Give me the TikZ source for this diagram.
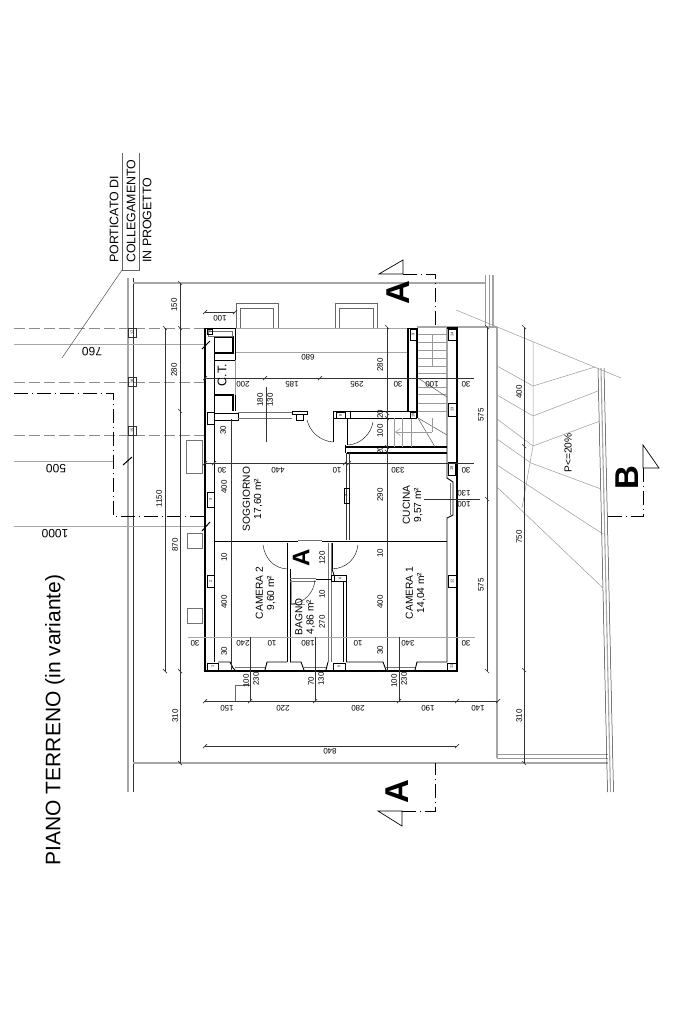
\documentclass[tikz,border=0pt]{standalone}
\usepackage{fontspec}
\setmainfont{Liberation Sans}
\usetikzlibrary{arrows.meta}
\tikzset{
  wall/.style={black,line width=0.9pt},
  thickwall/.style={black,line width=1.4pt},
  glass/.style={black!55,line width=0.7pt},
  site/.style={black!35,line width=1.1pt},
  fine/.style={black!40,line width=0.5pt},
  dimline/.style={black!80,line width=0.5pt},
  gridline/.style={black!45,line width=0.9pt,dash pattern=on 11pt off 4pt},
  cutline/.style={black,line width=0.9pt,dash pattern=on 14pt off 4pt on 1pt off 4pt},
  dimup/.style={rotate=90,inner sep=0pt,font=\fontsize{8}{9}\selectfont},
  dimflip/.style={rotate=180,inner sep=0pt,font=\fontsize{8}{9}\selectfont},
  roomname/.style={rotate=90,inner sep=0pt,align=center,font=\fontsize{10.2}{11.2}\selectfont},
  postnum/.style={rotate=90,inner sep=0pt,font=\fontsize{3.8}{4}\selectfont},
  note/.style={rotate=90,inner sep=0pt,anchor=west,font=\fontsize{12.4}{14}\selectfont},
  offset/.style={rotate=180,inner sep=0pt,font=\fontsize{12}{14}\selectfont},
  cutname/.style={rotate=90,inner sep=0pt,font=\bfseries\fontsize{33}{36}\selectfont},
}
\begin{document}
\begin{tikzpicture}[x=1pt,y=-1pt]
    \useasboundingbox (0,0) rectangle (683,1025);

    % site boundary
    \draw[site] (128,278) to (128,792);
    \draw[dimline] (133.5,278) to (133.5,792);
    \draw[site] (133,283) to (485,283);
    \draw[site] (133,763) to (608,763);
    \draw[fine] (485,275) to (485,327);
    \draw[fine] (489,275) to (489,327);
    \draw[site] (493,275) to (493,328);
    \draw[site] (417,327) to (497,327);
    \draw[site] (497,327) to (497,758);
    \draw[fine] (497,754) to (608,754);
    \draw[fine] (497,758) to (608,758);
    \draw[dimline] (598,368) to (607.5,792);
    \draw[site] (601,368) to (610.5,792);
    \draw[dimline] (604,368) to (613.5,792);

    % slope
    \draw[fine] (456,310) to (621,378);
    \draw[fine] (533,342) to (533,446) to (522,508);
    \draw[fine] (497,366) to (533,386) to (595,367);
    \draw[fine] (497,395) to (533,416) to (598,391);
    \draw[fine] (497,419) to (533,446) to (600,421);
    \draw[fine] (497,439) to (531,463) to (601,489);
    \draw[fine] (497,465) to (603,534);
    \draw[fine] (497,487) to (603,588);

    % axes of the new portico
    \foreach \gy in {328,382,435} \draw[gridline] (14,\gy) to (205,\gy);
    \draw[site,line width=0.8pt] (14,344) to (205,344);
    \draw[site,line width=0.8pt] (14,461) to (113,461);
    \draw[site,line width=0.8pt] (14,526) to (205,526);
    \draw[cutline] (14,393) to (113,393) to (113,516) to (205,516);
    \draw[black,line width=1pt] (202,349) to (210,341);
    \draw[black,line width=1pt] (123,465) to (132,457);
    \draw[black,line width=1pt] (202,531) to (210,522);
    \foreach \px/\py/\pn in {128/328/17,128/377/16,128/426/15} {
        \draw[black!80,line width=0.8pt] (\px,\py) rectangle ++(8,9);
        \node[postnum] (post\pn) at (\px+4,\py+4.5) {\pn};
    }
    \draw[black!60,line width=0.6pt] (122,153) to (122,270) to (139,270) to (139,153);
    \draw[black!70,line width=0.5pt] (122,270) to (62,358);

    % small boxes and bays outside
    \draw[black!55,line width=0.6pt] (186,440) rectangle (202,473);
    \draw[black!55,line width=0.6pt] (187,533) rectangle (202,548);
    \draw[black!55,line width=0.6pt] (187,608) rectangle (202,623);
    \draw[black!60,line width=0.6pt] (236,328) to (236,303) to (278,303) to (278,328);
    \draw[black!60,line width=0.6pt] (240,328) to (240,308) to (273,308) to (273,328);
    \draw[black!60,line width=0.6pt] (335,328) to (335,303) to (377,303) to (377,328);
    \draw[black!60,line width=0.6pt] (339,328) to (339,308) to (373,308) to (373,328);
    \draw[site,line width=0.7pt] (235,328) to (408,328);
    \draw[site,line width=0.7pt] (236,352) to (408,352);
    \draw[black!60,line width=0.5pt] (235,685) to (235,701);
    \draw[black!60,line width=0.5pt] (235,685) to (250,685);

    % outer walls
    \draw[thickwall] (205,328) to (205,671) to (457,671) to (457,328) to (447,328);
    \draw[wall] (214,337) to (214,662);
    \draw[wall] (447,328) to (447,478) to (453,482) to (453,515) to (447,518) to (447,662);
    \draw[glass] (450,483) to (450,515);

    % C.T. room
    \draw[wall] (205,328) to (235,328) to (235,360) to (214,360);
    \draw[thickwall] (214,337) to (233,337) to (233,353) to (214,353);
    \draw[wall] (235,395) to (235,411);
    \draw[thickwall] (214,395) to (233,395) to (233,411);
    \draw[glass] (208,331) rectangle (232,336);
    \draw[fine] (235,360) to (235,395);

    % wall below C.T. and soggiorno top
    \draw[wall] (207,412) rectangle (214,424);
    \draw[wall] (214,413) to (238,413) to (238,420) to (214,420);
    \draw[glass] (238,412) to (292,412);
    \draw[glass] (238,418) to (292,418);
    \draw[wall] (292,411) rectangle (307,414);
    \draw[wall] (296,414) rectangle (303,420);
    \draw[wall] (333,411) to (350,411) to (350,418) to (333,418) to (333,411);
    \draw[wall] (350,411) to (417,411);
    \draw[wall] (350,418) to (417,418);
    \draw[wall] (333,418) to (333,442);
    \draw (307,420) .. controls (310,432) and (320,441) .. (333,442);

    % stair walls
    \draw[wall] (408,328) to (417,328);
    \draw[thickwall] (408,328) to (408,411);
    \draw[thickwall] (417,328) to (417,418);
    \draw[thickwall] (345,447) to (447,447);
    \draw[thickwall] (347,453) to (447,453);
    \draw[wall] (345,445) to (345,453);
    \draw[wall] (347,418) to (347,445);
    \draw (373,422) .. controls (371,434) and (361,444) .. (348,445);

    % stairs
    \foreach \sy in {334,342,350,358,366,373,387,394,403,411} \draw[fine] (418,\sy) to (447,\sy);
    \draw[fine] (432,334) to (432,366);
    \draw[black!65,line width=0.5pt] (418,378) to (447,397);
    \draw[black!65,line width=0.5pt] (418,418) to (447,435);
    \draw[black!65,line width=0.5pt] (418,418) to (435,447);
    \foreach \sx in {394,402,411} \draw[fine] (\sx,418) to (\sx,447);
    \draw[fine] (432,418) to (432,432);
    \draw[fine,-{Straight Barb[length=5pt,width=7pt]}] (432,432) to (395,432);

    % inner walls
    \draw[black!80,line width=0.7pt] (346.5,453) to (346.5,540);
    \draw[black!80,line width=0.7pt] (349.5,453) to (349.5,540);
    \draw[thickwall] (215,541.5) to (298,541.5);
    \draw[thickwall] (322,541.5) to (447,541.5);
    \draw[glass] (298,540) to (322,540);
    \draw[wall] (287,543) to (287,569);
    \draw[wall] (332,543) to (332,569);
    \draw (263,545) .. controls (265,559) and (274,568) .. (287,569);
    \draw (358,545) .. controls (356,559) and (347,568) .. (332,569);
    \draw[wall] (287,569) to (287,662);
    \draw[wall] (290,569) to (290,662);
    \draw[glass] (328,543) to (328,662);
    \draw[glass] (331,543) to (331,662);
    \draw[wall] (332,569) to (334,575);
    \draw[wall] (331,575) rectangle (346,581);
    \draw[wall] (343,581) to (343,662);
    \draw[wall] (346,581) to (346,662);
    \draw[glass] (290,578) to (316,578);
    \draw[glass] (290,581) to (316,581);
    \draw[thickwall] (316,579.5) to (332,579.5);
    \draw[fine] (291,580) to (291,604) to (305,604);
    \draw[black!80,line width=0.5pt] (315,580) .. controls (314,592) and (305,603) .. (291,604);

    % bottom wall and windows
    \draw[wall] (218,662) to (230,662) to (233,668) to (235,670);
    \draw[wall] (265,670) to (267,662) to (287,662);
    \draw[wall] (290,662) to (301,662) to (304,670);
    \draw[wall] (326,670) to (328,662);
    \draw[wall] (346,662) to (383,662) to (386,670);
    \draw[wall] (415,670) to (417,662) to (447,662);
    \foreach \wa/\wb in {235/265,304/326,386/415} {
        \draw[glass] (\wa,667) to (\wb,667);
    }

    % numbered pillars
    \foreach \px/\py/\pw/\ph/\pn in {207/663/11/7/1,207/575/7/12/2,207/492/7/15/3,207/329/5/5/4,333/663/12/7/5,334/575/12/6/6,344/488/5/15/7,336/412/9/6/8,410/329/6/11/9,410/412/6/6/10,447/663/9/7/11,448/575/8/12/12,448/403/8/13/13,448/329/8/11/14,448/462/7/13/18} {
        \draw[black,line width=0.7pt] (\px,\py) rectangle ++(\pw,\ph);
        \node[postnum] (pil\pn) at (\px+\pw/2,\py+\ph/2) {\pn};
    }

    % dimension lines
    \draw[dimline] (180,283) to (180,763);
    \draw[dimline] (165,328) to (165,671);
    \draw[dimline] (487,327) to (487,671);
    \draw[dimline] (524,327) to (524,763);
    \draw[dimline] (231,419) to (231,671);
    \draw[dimline] (387,327) to (387,671);
    \draw[dimline] (266,387) to (266,442);
    \draw[dimline] (205,378) to (474,378);
    \draw[dimline] (205,463) to (474,463);
    \draw[site,line width=0.8pt] (188,637) to (475,637);
    \draw[dimline] (205,701) to (498,701);
    \draw[dimline] (205,746) to (457,746);
    \draw[dimline] (250,637) to (250,701);
    \draw[dimline] (315,637) to (315,701);
    \draw[dimline] (399,637) to (399,701);
    \draw[dimline] (424,499) to (480,499);
    \foreach \tx/\ty in {180/283,180/328,180/411,180/671,180/763,165/328,165/671,487/327,487/499,487/671,524/327,524/446,524/670,524/763,387/327,387/413,387/418,387/447,387/452} {
        \draw[dimline,line width=0.7pt] (\tx,\ty) ++(-2,-2) to ++(4,4);
    }
    \foreach \tx/\ty in {205/378,265/378,320/378,205/463,214/463,345/463,349/463,205/701,250/701,315/701,399/701,457/701,498/701,205/746,457/746,205/312,235/312} {
        \draw[dimline,line width=0.7pt] (\tx,\ty) ++(-2,2) to ++(4,-4);
    }
    \draw[dimline] (205,312) to (235,312);

    % texts: rotated dimensions
    \foreach \tx/\ty/\tn/\tt in {174/305/a/150,174/370/b/280,159/499/c/1150,175/545/d/870,175/716/e/310,481/415/f/575,481/585/g/575,519/392/h/400,519/537/i/750,519/716/j/310,223/430/k/30,224/487/l/400,224/557/m/10,224/602/n/400,224/651/o/30,380/365/p/280,380/414/q/20,380/431/r/100,380/450/s/20,380/495/t/290,380/553/u/10,380/602/v/400,380/650/w/30,260/400/x/180,270/400/y/130,322/558/z/120,322/594/aa/10,322/622/ab/270,246/681/ac/100,256/679/ad/230,311/681/ae/70,321/679/af/130,394/681/ag/100,404/679/ah/230} {
        \node[dimup] (up\tn) at (\tx,\ty) {\tt};
    }
    % texts: upside down dimensions
    \foreach \tx/\ty/\tn/\tt in {220/318/a/100,308/357/b/680,243/384/c/200,292/384/d/185,357/384/e/295,398/384/f/30,432/384/g/100,466/384/h/30,222/470/i/30,278/470/j/440,337/470/k/10,398/470/l/330,466/470/m/30,195/643/n/30,243/643/o/240,272/643/p/10,308/643/q/180,358/643/r/10,408/643/s/340,466/643/t/30,227/708/u/150,283/708/v/220,358/708/w/280,428/708/x/190,478/708/y/140,330/751/z/840,464/493/aa/130,464/504/ab/100} {
        \node[dimflip] (flip\tn) at (\tx,\ty) {\tt};
    }
    \node[offset] (off760) at (92,352) {760};
    \node[offset] (off500) at (56,469) {500};
    \node[offset] (off1000) at (55,534) {1000};

    % texts: rooms
    \node[roomname,font=\fontsize{12.5}{14}\selectfont] (ct) at (222,375) {C.T.};
    \node[roomname] (soggiorno) at (252.5,499) {SOGGIORNO\\17,60 m²};
    \node[roomname] (cucina) at (412.5,505) {CUCINA\\9,57 m²};
    \node[roomname] (camera2) at (265.5,593) {CAMERA 2\\9,60 m²};
    \node[roomname] (bagno) at (305,617) {BAGNO\\4,86 m²};
    \node[roomname] (camera1) at (415.5,593) {CAMERA 1\\14,04 m²};
    \node[roomname] (slope) at (568,453) {P<=20\%};

    % texts: notes and title
    \node[note] (note1) at (114,263) {PORTICATO DI};
    \node[note] (note2) at (131,263) {COLLEGAMENTO};
    \node[note] (note3) at (147,263) {IN PROGETTO};
    \node[rotate=90,inner sep=0pt,font=\fontsize{21}{24}\selectfont] (title) at (55,720) {PIANO TERRENO (in variante)};

    % sections
    \draw[black,line width=0.7pt] (403,274) to (379,274) to (403,260) to cycle;
    \draw[cutline] (403,274) to (435,274) to (435,327);
    \draw[black,line width=0.7pt] (402,811) to (378,811) to (402,826) to cycle;
    \draw[cutline] (402,811) to (435,811) to (435,763);
    \draw[black,line width=0.7pt] (643,468) to (659,468) to (643,445) to cycle;
    \draw[cutline] (643,468) to (643,516) to (607,516);
    \node[cutname] (cuta1) at (398,293) {A};
    \node[cutname] (cuta2) at (397,792) {A};
    \node[cutname] (cutb) at (627,478) {B};
    \node[cutname,font=\bfseries\fontsize{24}{26}\selectfont] (cuta3) at (301,558) {A};

\end{tikzpicture}
\end{document}
